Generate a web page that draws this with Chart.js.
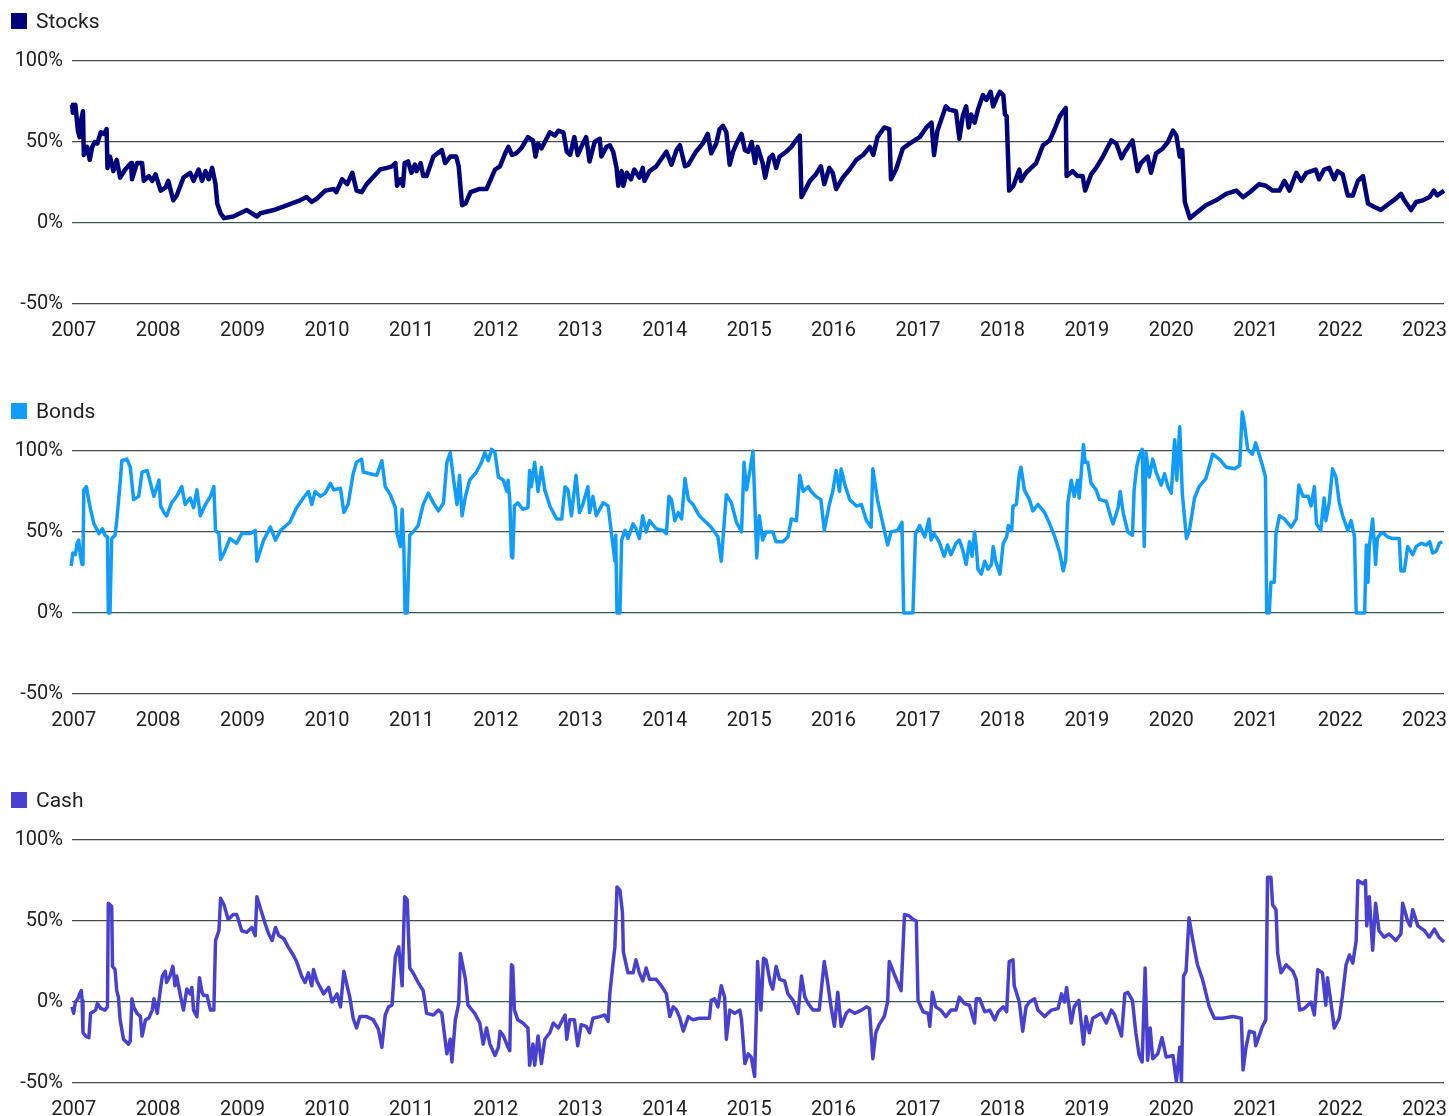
<!DOCTYPE html>
<html>
<head>
<meta charset="utf-8">
<script src="https://cdn.jsdelivr.net/npm/chart.js@4.4.0/dist/chart.umd.min.js"></script>
<style>
  body { margin: 0; background: #fff; font-family: Roboto, "Noto Sans", sans-serif; color: #222; }
  .panel { position: absolute; left: 0; width: 1449px; height: 350px; }
  .key { position: absolute; left: 11px; top: 13px; width: 16px; height: 16px; }
  .keytext { position: absolute; left: 36px; top: 11px; font-size: 21px; line-height: 21px; }
</style>
</head>
<body>
<div class="panel" style="top:0px"><canvas id="stocks" width="1449" height="350"></canvas>
  <div class="key" style="background:#00007a"></div><div class="keytext">Stocks</div></div>
<div class="panel" style="top:390px"><canvas id="bonds" width="1449" height="350"></canvas>
  <div class="key" style="background:#119cfb"></div><div class="keytext">Bonds</div></div>
<div class="panel" style="top:779px"><canvas id="cash" width="1449" height="350"></canvas>
  <div class="key" style="background:#4841cf"></div><div class="keytext">Cash</div></div>
<script>
const yearTicks = [2007, 2008, 2009, 2010, 2011, 2012, 2013, 2014, 2015, 2016, 2017, 2018, 2019, 2020, 2021, 2022, 2023];
const percentTicks = [-50, 0, 50, 100];

const stocksYears = [2006.98, 2006.99, 2007.02, 2007.05, 2007.07, 2007.09, 2007.11, 2007.12, 2007.16, 2007.19, 2007.22, 2007.25, 2007.28, 2007.32, 2007.36, 2007.39, 2007.40, 2007.43, 2007.47, 2007.51, 2007.55, 2007.61, 2007.68, 2007.69, 2007.75, 2007.81, 2007.83, 2007.89, 2007.93, 2007.97,
  2008.03, 2008.09, 2008.12, 2008.18, 2008.22, 2008.30, 2008.38, 2008.42, 2008.48, 2008.52, 2008.56, 2008.60, 2008.64, 2008.68, 2008.70, 2008.74, 2008.78, 2008.89,
  2009.05, 2009.17, 2009.21, 2009.37, 2009.53, 2009.68, 2009.76, 2009.82, 2009.88, 2009.98,
  2010.08, 2010.11, 2010.18, 2010.24, 2010.30, 2010.35, 2010.41, 2010.47, 2010.63, 2010.71, 2010.77, 2010.81, 2010.83, 2010.87, 2010.90, 2010.92, 2010.96,
  2011.00, 2011.04, 2011.06, 2011.11, 2011.14, 2011.18, 2011.26, 2011.36, 2011.40, 2011.46, 2011.53, 2011.56, 2011.60, 2011.64, 2011.70, 2011.81, 2011.89, 2011.99,
  2012.05, 2012.11, 2012.15, 2012.19, 2012.24, 2012.30, 2012.38, 2012.44, 2012.47, 2012.50, 2012.54, 2012.60, 2012.64, 2012.70, 2012.74, 2012.80, 2012.84, 2012.88, 2012.93, 2012.97,
  2013.03, 2013.07, 2013.11, 2013.17, 2013.23, 2013.25, 2013.31, 2013.35, 2013.39, 2013.43, 2013.45, 2013.49, 2013.51, 2013.55, 2013.60, 2013.64, 2013.70, 2013.74, 2013.76, 2013.82, 2013.90, 2013.98,
  2014.02, 2014.08, 2014.14, 2014.18, 2014.24, 2014.28, 2014.37, 2014.45, 2014.51, 2014.55, 2014.61, 2014.65, 2014.69, 2014.73, 2014.77, 2014.81, 2014.85, 2014.91, 2014.95, 2014.99,
  2015.03, 2015.07, 2015.10, 2015.16, 2015.19, 2015.24, 2015.28, 2015.32, 2015.36, 2015.44, 2015.50, 2015.54, 2015.60, 2015.62, 2015.66, 2015.72, 2015.79, 2015.85, 2015.89, 2015.95, 2015.99,
  2016.03, 2016.11, 2016.19, 2016.27, 2016.35, 2016.43, 2016.47, 2016.52, 2016.60, 2016.66, 2016.68, 2016.74, 2016.82, 2016.90, 2016.96,
  2017.02, 2017.10, 2017.16, 2017.19, 2017.23, 2017.33, 2017.37, 2017.45, 2017.49, 2017.53, 2017.57, 2017.60, 2017.63, 2017.67, 2017.71, 2017.77, 2017.81, 2017.86, 2017.89, 2017.93, 2017.97,
  2018.01, 2018.03, 2018.05, 2018.08, 2018.13, 2018.20, 2018.22, 2018.28, 2018.34, 2018.40, 2018.48, 2018.56, 2018.62, 2018.68, 2018.75, 2018.76, 2018.83, 2018.89, 2018.95, 2018.98,
  2019.05, 2019.11, 2019.19, 2019.29, 2019.35, 2019.41, 2019.45, 2019.54, 2019.60, 2019.64, 2019.72, 2019.76, 2019.82, 2019.90, 2019.96,
  2020.02, 2020.06, 2020.10, 2020.13, 2020.16, 2020.22, 2020.29, 2020.41, 2020.53, 2020.65, 2020.77, 2020.85, 2020.93,
  2021.04, 2021.12, 2021.20, 2021.28, 2021.34, 2021.40, 2021.48, 2021.54, 2021.60, 2021.71, 2021.75, 2021.81, 2021.87, 2021.93, 2021.97,
  2022.03, 2022.09, 2022.15, 2022.21, 2022.27, 2022.33, 2022.40, 2022.48, 2022.58, 2022.66, 2022.72, 2022.76, 2022.84, 2022.90, 2022.98,
  2023.06, 2023.11, 2023.15, 2023.23];
const stocksValues = [73, 68, 73, 57, 53, 64, 69, 42, 47, 39, 47, 50, 49, 56, 55, 58, 34, 41, 32, 39, 28, 33, 37, 27, 37, 37, 26, 29, 26, 30,
  20, 22, 26, 14, 17, 28, 31, 26, 33, 26, 32, 27, 34, 24, 12, 6, 3, 4,
  8, 4, 6, 8, 11, 14, 16, 13, 15, 20,
  21, 19, 27, 24, 31, 20, 19, 24, 33, 34, 35, 37, 23, 27, 23, 37, 38,
  31, 36, 32, 37, 29, 29, 41, 45, 37, 41, 41, 35, 11, 12, 19, 21, 21, 33,
  35, 43, 47, 42, 43, 46, 53, 51, 41, 49, 46, 52, 56, 54, 57, 56, 44, 42, 53, 42,
  49, 53, 38, 50, 52, 41, 47, 48, 44, 34, 23, 32, 23, 31, 27, 33, 28, 34, 26, 32, 35, 41,
  44, 36, 45, 48, 35, 36, 44, 49, 55, 43, 49, 58, 60, 56, 36, 44, 49, 55, 45, 44,
  50, 37, 47, 37, 28, 40, 42, 34, 41, 44, 47, 50, 54, 16, 20, 26, 30, 35, 24, 34, 31,
  21, 28, 33, 39, 42, 47, 42, 53, 59, 58, 27, 33, 46, 49, 51,
  53, 59, 62, 42, 57, 72, 70, 69, 52, 66, 72, 59, 67, 62, 70, 79, 76, 81, 72, 77, 81,
  79, 67, 66, 20, 23, 33, 26, 31, 34, 37, 48, 51, 58, 66, 71, 29, 32, 29, 29, 20,
  30, 34, 41, 51, 49, 40, 44, 51, 32, 37, 41, 31, 43, 46, 50,
  57, 54, 41, 45, 13, 3, 6, 11, 14, 18, 20, 16, 19,
  24, 23, 20, 20, 26, 20, 31, 26, 31, 33, 27, 33, 34, 27, 32,
  30, 17, 17, 26, 29, 12, 10, 8, 12, 15, 18, 14, 8, 13, 14,
  16, 20, 17, 20];

const bondsYears = [2006.97, 2006.99, 2007.02, 2007.04, 2007.06, 2007.08, 2007.10, 2007.11, 2007.12, 2007.15, 2007.17, 2007.20, 2007.24, 2007.30, 2007.34, 2007.37, 2007.40, 2007.41, 2007.43, 2007.45, 2007.49, 2007.51, 2007.55, 2007.57, 2007.63, 2007.67, 2007.71, 2007.77, 2007.81, 2007.87, 2007.91, 2007.95,
  2008.01, 2008.03, 2008.07, 2008.10, 2008.16, 2008.22, 2008.28, 2008.32, 2008.38, 2008.42, 2008.46, 2008.50, 2008.56, 2008.62, 2008.66, 2008.68, 2008.72, 2008.74, 2008.78, 2008.85, 2008.93, 2008.99,
  2009.09, 2009.15, 2009.17, 2009.25, 2009.33, 2009.39, 2009.45, 2009.56, 2009.64, 2009.72, 2009.78, 2009.82, 2009.86, 2009.92, 2009.98,
  2010.04, 2010.08, 2010.16, 2010.20, 2010.25, 2010.31, 2010.35, 2010.41, 2010.43, 2010.51, 2010.59, 2010.65, 2010.69, 2010.75, 2010.81, 2010.83, 2010.87, 2010.89, 2010.91, 2010.925, 2010.95, 2010.98,
  2011.02, 2011.08, 2011.14, 2011.20, 2011.26, 2011.32, 2011.38, 2011.42, 2011.46, 2011.50, 2011.54, 2011.57, 2011.60, 2011.64, 2011.69, 2011.77, 2011.83, 2011.87, 2011.91, 2011.95, 2011.99,
  2012.03, 2012.09, 2012.13, 2012.145, 2012.165, 2012.185, 2012.20, 2012.22, 2012.26, 2012.32, 2012.38, 2012.40, 2012.42, 2012.46, 2012.50, 2012.54, 2012.58, 2012.64, 2012.72, 2012.78, 2012.82, 2012.855, 2012.895, 2012.95, 2012.99,
  2013.03, 2013.09, 2013.11, 2013.15, 2013.19, 2013.27, 2013.33, 2013.37, 2013.41, 2013.42, 2013.435, 2013.47, 2013.49, 2013.53, 2013.565, 2013.625, 2013.66, 2013.70, 2013.74, 2013.78, 2013.82, 2013.90, 2013.98,
  2014.02, 2014.05, 2014.08, 2014.12, 2014.16, 2014.20, 2014.24, 2014.28, 2014.335, 2014.41, 2014.49, 2014.55, 2014.63, 2014.67, 2014.73, 2014.79, 2014.85, 2014.91, 2014.94, 2014.97,
  2015.01, 2015.045, 2015.065, 2015.09, 2015.12, 2015.16, 2015.20, 2015.28, 2015.32, 2015.40, 2015.46, 2015.50, 2015.56, 2015.60, 2015.64, 2015.70, 2015.735, 2015.79, 2015.85, 2015.89, 2015.95, 2015.99,
  2016.03, 2016.07, 2016.09, 2016.13, 2016.19, 2016.27, 2016.33, 2016.39, 2016.445, 2016.465, 2016.52, 2016.58, 2016.64, 2016.68, 2016.76, 2016.81, 2016.83, 2016.94, 2016.97,
  2017.02, 2017.08, 2017.13, 2017.155, 2017.19, 2017.25, 2017.31, 2017.35, 2017.39, 2017.45, 2017.49, 2017.53, 2017.57, 2017.61, 2017.64, 2017.67, 2017.69, 2017.71, 2017.75, 2017.79, 2017.83, 2017.87, 2017.89, 2017.92, 2017.97,
  2018.01, 2018.05, 2018.07, 2018.11, 2018.125, 2018.165, 2018.20, 2018.22, 2018.26, 2018.32, 2018.36, 2018.42, 2018.50, 2018.56, 2018.62, 2018.68, 2018.72, 2018.75, 2018.775, 2018.815, 2018.85, 2018.89, 2018.91, 2018.96, 2018.98,
  2019.01, 2019.05, 2019.11, 2019.15, 2019.23, 2019.29, 2019.31, 2019.37, 2019.395, 2019.43, 2019.485, 2019.54, 2019.56, 2019.59, 2019.62, 2019.655, 2019.68, 2019.70, 2019.74, 2019.78, 2019.82, 2019.88, 2019.92, 2019.96,
  2020.00, 2020.04, 2020.065, 2020.10, 2020.13, 2020.18, 2020.215, 2020.275, 2020.33, 2020.41, 2020.49, 2020.57, 2020.65, 2020.75, 2020.81, 2020.84, 2020.865, 2020.905, 2020.96,
  2021.00, 2021.04, 2021.08, 2021.115, 2021.13, 2021.16, 2021.18, 2021.22, 2021.24, 2021.28, 2021.34, 2021.42, 2021.48, 2021.51, 2021.56, 2021.62, 2021.655, 2021.695, 2021.72, 2021.77, 2021.81, 2021.83, 2021.87, 2021.91, 2021.95, 2021.99,
  2022.03, 2022.09, 2022.13, 2022.17, 2022.19, 2022.29, 2022.31, 2022.33, 2022.345, 2022.385, 2022.42, 2022.44, 2022.48, 2022.52, 2022.56, 2022.62, 2022.70, 2022.72, 2022.76, 2022.80, 2022.86, 2022.90, 2022.96,
  2023.02, 2023.06, 2023.095, 2023.135, 2023.175, 2023.21];
const bondsValues = [29, 37, 36, 43, 45, 35, 30, 31, 76, 78, 72, 64, 55, 49, 52, 48, 47, 0, 0, 46, 48, 57, 80, 94, 95, 90, 70, 72, 87, 88, 80, 72,
  82, 66, 62, 60, 68, 72, 78, 67, 71, 65, 76, 60, 67, 72, 78, 51, 49, 33, 37, 46, 43, 49,
  49, 51, 32, 45, 53, 45, 51, 56, 65, 71, 75, 67, 75, 72, 74,
  80, 76, 77, 62, 67, 86, 93, 95, 87, 86, 85, 94, 78, 73, 65, 49, 41, 64, 41, 0, 0, 48,
  50, 54, 67, 74, 68, 63, 68, 93, 99, 82, 67, 85, 60, 72, 82, 87, 93, 99, 94, 101, 99,
  84, 82, 75, 82, 70, 35, 34, 66, 68, 64, 65, 88, 78, 93, 75, 90, 76, 66, 58, 58, 78, 76, 60, 85, 62,
  67, 78, 62, 72, 60, 68, 66, 49, 32, 48, 0, 0, 45, 51, 46, 55, 52, 46, 60, 50, 57, 52, 51,
  49, 72, 70, 57, 62, 58, 83, 70, 67, 60, 56, 53, 47, 32, 73, 68, 56, 50, 93, 76,
  88, 100, 72, 34, 60, 45, 50, 50, 44, 44, 47, 58, 57, 85, 75, 78, 75, 72, 70, 51, 67, 75,
  88, 75, 89, 80, 70, 66, 67, 57, 53, 89, 70, 56, 42, 50, 51, 56, 0, 0, 49,
  54, 47, 58, 45, 49, 44, 35, 42, 36, 43, 45, 39, 30, 44, 35, 50, 41, 27, 24, 32, 27, 30, 41, 32, 24,
  43, 47, 54, 51, 66, 67, 86, 90, 76, 70, 63, 67, 62, 55, 47, 37, 26, 33, 68, 82, 72, 82, 71, 104, 93,
  93, 80, 76, 70, 69, 58, 55, 65, 75, 62, 50, 48, 76, 90, 97, 101, 41, 99, 84, 95, 87, 79, 86, 78,
  74, 107, 82, 115, 74, 46, 51, 71, 78, 83, 98, 95, 90, 89, 91, 124, 117, 101, 98,
  105, 98, 91, 84, 0, 0, 19, 19, 49, 60, 58, 53, 58, 79, 72, 72, 66, 78, 55, 51, 71, 57, 68, 89, 84, 68,
  60, 51, 57, 47, 0, 0, 42, 19, 41, 58, 30, 46, 49, 49, 47, 46, 46, 26, 26, 41, 36, 41, 43,
  42, 44, 37, 38, 43, 44];

const cashYears = [2006.98, 2007.00, 2007.02, 2007.05, 2007.07, 2007.09, 2007.10, 2007.11, 2007.14, 2007.18, 2007.20, 2007.26, 2007.28, 2007.32, 2007.37, 2007.40, 2007.41, 2007.45, 2007.46, 2007.49, 2007.51, 2007.53, 2007.55, 2007.59, 2007.65, 2007.67, 2007.69, 2007.71, 2007.75, 2007.79, 2007.81, 2007.85, 2007.89, 2007.93, 2007.95, 2007.99,
  2008.03, 2008.05, 2008.085, 2008.10, 2008.14, 2008.175, 2008.20, 2008.22, 2008.26, 2008.30, 2008.34, 2008.38, 2008.40, 2008.42, 2008.46, 2008.49, 2008.52, 2008.54, 2008.58, 2008.62, 2008.66, 2008.68, 2008.72, 2008.74, 2008.78, 2008.83, 2008.89, 2008.93, 2008.95, 2008.99,
  2009.05, 2009.11, 2009.15, 2009.17, 2009.21, 2009.27, 2009.31, 2009.35, 2009.39, 2009.43, 2009.49, 2009.54, 2009.60, 2009.64, 2009.70, 2009.74, 2009.78, 2009.82, 2009.84, 2009.88, 2009.92, 2009.96,
  2010.02, 2010.06, 2010.12, 2010.16, 2010.20, 2010.23, 2010.27, 2010.31, 2010.35, 2010.39, 2010.47, 2010.55, 2010.61, 2010.65, 2010.69, 2010.73, 2010.77, 2010.81, 2010.85, 2010.89, 2010.92, 2010.95, 2010.98,
  2011.02, 2011.08, 2011.14, 2011.18, 2011.26, 2011.32, 2011.36, 2011.42, 2011.46, 2011.48, 2011.52, 2011.56, 2011.58, 2011.64, 2011.67, 2011.75, 2011.81, 2011.85, 2011.89, 2011.93, 2011.99,
  2012.03, 2012.05, 2012.09, 2012.145, 2012.165, 2012.185, 2012.20, 2012.22, 2012.26, 2012.32, 2012.38, 2012.40, 2012.44, 2012.46, 2012.50, 2012.54, 2012.58, 2012.64, 2012.68, 2012.74, 2012.82, 2012.84, 2012.875, 2012.93, 2012.97,
  2013.01, 2013.07, 2013.11, 2013.15, 2013.23, 2013.29, 2013.33, 2013.35, 2013.39, 2013.41, 2013.435, 2013.47, 2013.50, 2013.51, 2013.565, 2013.625, 2013.66, 2013.70, 2013.74, 2013.78, 2013.82, 2013.90, 2013.96,
  2014.02, 2014.06, 2014.10, 2014.14, 2014.18, 2014.22, 2014.28, 2014.335, 2014.41, 2014.53, 2014.55, 2014.59, 2014.63, 2014.67, 2014.71, 2014.73, 2014.77, 2014.83, 2014.89, 2014.91, 2014.95, 2014.99,
  2015.025, 2015.065, 2015.085, 2015.10, 2015.14, 2015.17, 2015.20, 2015.25, 2015.28, 2015.32, 2015.36, 2015.42, 2015.46, 2015.52, 2015.58, 2015.62, 2015.66, 2015.70, 2015.755, 2015.83, 2015.89, 2015.93, 2015.97,
  2016.01, 2016.05, 2016.09, 2016.15, 2016.19, 2016.25, 2016.33, 2016.39, 2016.425, 2016.465, 2016.50, 2016.54, 2016.60, 2016.64, 2016.66, 2016.72, 2016.80, 2016.84, 2016.90, 2016.94, 2016.98,
  2017.00, 2017.06, 2017.12, 2017.14, 2017.17, 2017.21, 2017.27, 2017.33, 2017.39, 2017.45, 2017.49, 2017.55, 2017.61, 2017.67, 2017.69, 2017.73, 2017.79, 2017.85, 2017.91, 2017.95,
  2018.01, 2018.05, 2018.08, 2018.125, 2018.14, 2018.20, 2018.24, 2018.28, 2018.32, 2018.38, 2018.42, 2018.50, 2018.58, 2018.66, 2018.70, 2018.735, 2018.76, 2018.815, 2018.85, 2018.905, 2018.96, 2018.99,
  2019.03, 2019.07, 2019.17, 2019.23, 2019.29, 2019.33, 2019.41, 2019.45, 2019.485, 2019.54, 2019.58, 2019.62, 2019.655, 2019.69, 2019.72, 2019.75, 2019.78, 2019.84, 2019.89, 2019.94,
  2020.02, 2020.06, 2020.10, 2020.12, 2020.145, 2020.175, 2020.21, 2020.255, 2020.31, 2020.37, 2020.45, 2020.51, 2020.61, 2020.73, 2020.83, 2020.85, 2020.885, 2020.925, 2020.985,
  2021.00, 2021.04, 2021.08, 2021.12, 2021.14, 2021.18, 2021.20, 2021.24, 2021.26, 2021.30, 2021.36, 2021.44, 2021.48, 2021.52, 2021.575, 2021.615, 2021.655, 2021.695, 2021.735, 2021.79, 2021.83, 2021.85, 2021.89, 2021.93, 2021.99,
  2022.03, 2022.07, 2022.11, 2022.15, 2022.19, 2022.21, 2022.27, 2022.30, 2022.315, 2022.345, 2022.385, 2022.42, 2022.46, 2022.52, 2022.58, 2022.66, 2022.72, 2022.74, 2022.80, 2022.83, 2022.86, 2022.92,
  2023.00, 2023.055, 2023.115, 2023.17, 2023.23];
const cashValues = [-3, -7, 0, 2, 5, 7, 1, -19, -21, -22, -7, -5, -1, -4, -5, -3, 61, 59, 22, 20, 7, 3, -11, -23, -26, -24, 2, -3, -7, -9, -21, -11, -10, -5, 2, -7,
  9, 16, 19, 12, 16, 22, 10, 16, 5, -5, 8, 5, 9, -5, -9, 15, 6, 4, 4, -5, -5, 38, 44, 64, 60, 51, 54, 54, 51, 44,
  43, 46, 41, 65, 58, 48, 42, 38, 46, 41, 39, 34, 29, 25, 16, 12, 18, 10, 20, 13, 9, 5,
  9, 0, 5, -3, 19, 12, 3, -10, -16, -9, -9, -11, -17, -28, -8, -3, -2, 28, 34, 10, 65, 63, 21,
  18, 12, 7, -7, -8, -5, -7, -32, -23, -37, -11, -1, 30, 14, -2, -7, -13, -26, -16, -26, -33,
  -28, -18, -21, -28, -30, 23, 22, -5, -11, -13, -16, -39, -26, -39, -21, -38, -23, -19, -13, -16, -8, -23, -11, -11, -27,
  -14, -15, -19, -10, -9, -8, -12, 5, 25, 34, 71, 69, 55, 31, 18, 18, 26, 18, 13, 21, 14, 14, 10,
  5, -9, -3, -5, -10, -18, -9, -11, -10, -10, 1, 2, -3, 10, 3, -23, -5, -7, -5, -11, -38, -32,
  -34, -46, -9, 25, -5, 27, 26, 12, 8, 22, 14, 13, 5, 1, -7, 16, 3, -1, -5, -5, 25, 12, -3,
  -15, 6, -15, -7, -5, -7, -5, -3, -4, -35, -19, -14, -9, 0, 25, 17, 7, 54, 53, 51, 50,
  1, -6, -7, -15, 6, -3, -5, -9, -5, -5, 3, -1, -2, -13, 2, 2, -6, -5, -11, -6,
  -3, -6, 25, 26, 10, 0, -18, -3, 0, 2, -5, -9, -5, -4, 5, 0, 9, -13, -3, 1, -26, -9,
  -19, -10, -7, -13, -5, -8, -21, 5, 6, 1, -19, -33, -37, 21, -36, -16, -35, -32, -22, -34,
  -33, -49, -28, -49, 16, 19, 52, 38, 23, 14, -3, -10, -10, -9, -10, -42, -28, -18, -19,
  -27, -21, -15, -11, 77, 77, 60, 57, 30, 18, 23, 19, 14, -5, -4, -2, 0, -8, 20, 18, -2, 15, 0, -16, -10,
  5, 23, 29, 24, 38, 75, 73, 75, 47, 65, 32, 61, 44, 40, 42, 38, 42, 61, 50, 47, 57, 47,
  44, 40, 45, 40, 37];

function toPoints(xs, ys) {
  return xs.map((x, i) => ({ x: x, y: ys[i] }));
}

function makeChart(id, years, values, color, width) {
  const config = {
    type: "line",
    data: {
      datasets: [{
        data: toPoints(years, values),
        borderColor: color,
        borderWidth: width,
        borderJoinStyle: "round",
        pointRadius: 0,
        tension: 0,
        clip: false
      }]
    },
    options: {
      responsive: false,
      animation: false,
      devicePixelRatio: 1,
      layout: { padding: { top: 61, right: 5, left: 0, bottom: 0 } },
      plugins: { legend: { display: false }, tooltip: { enabled: false } },
      scales: {
        x: {
          type: "linear",
          min: 2006.98,
          max: 2023.23,
          afterBuildTicks: (scale) => { scale.ticks = yearTicks.map((v) => ({ value: v })); },
          afterFit: (scale) => {
            scale.height = 46;
            scale.paddingLeft = 0;
            scale.paddingRight = 0;
          },
          grid: { display: false, drawTicks: false },
          border: { display: false },
          ticks: {
            padding: 15,
            maxRotation: 0,
            autoSkip: false,
            color: "#222",
            font: { family: "Roboto", size: 20 },
            callback: (v) => String(v)
          }
        },
        y: {
          min: -50,
          max: 100,
          afterBuildTicks: (scale) => { scale.ticks = percentTicks.map((v) => ({ value: v })); },
          afterFit: (scale) => {
            scale.width = 72;
            scale.paddingTop = 0;
            scale.paddingBottom = 0;
          },
          grid: {
            drawTicks: false,
            lineWidth: 1.2,
            color: (ctx) => (ctx.tick && ctx.tick.value === 0 ? "#3b5750" : "#4a4a4a")
          },
          border: { display: false },
          ticks: {
            padding: 9,
            color: "#222",
            font: { family: "Roboto", size: 20 },
            callback: (v) => v + "%"
          }
        }
      }
    }
  };
  return new Chart(document.getElementById(id), config);
}

makeChart("stocks", stocksYears, stocksValues, "#00007a", 4.5);
makeChart("bonds", bondsYears, bondsValues, "#119cfb", 3.5);
makeChart("cash", cashYears, cashValues, "#4841cf", 3.5);
</script>
</body>
</html>
